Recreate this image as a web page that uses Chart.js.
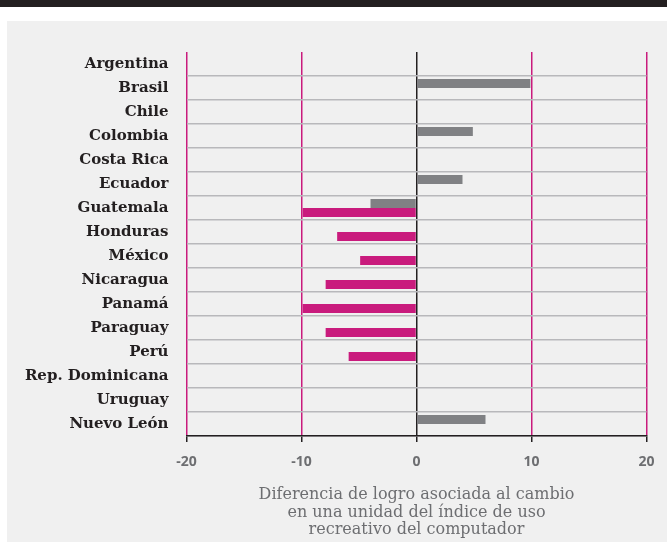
<!DOCTYPE html>
<html>
<head>
<meta charset="utf-8">
<script src="https://cdn.jsdelivr.net/npm/chart.js@4"></script>
<style>
  body { margin: 0; width: 667px; height: 542px; background: #fff; position: relative; overflow: hidden; }
  #topbar { position: absolute; left: 0; top: 0; width: 667px; height: 7px; background: #231f20; }
  #panel { position: absolute; left: 7px; top: 21px; width: 660px; height: 521px; background: #f0f0f0; }
  #chart { position: absolute; left: 0; top: 0; }
</style>
</head>
<body>
<div id="topbar"></div>
<div id="panel"></div>
<canvas id="chart" width="667" height="542"></canvas>
<script>
// countries, top to bottom
const countries = ['Argentina', 'Brasil', 'Chile', 'Colombia', 'Costa Rica', 'Ecuador', 'Guatemala',
  'Honduras', 'México', 'Nicaragua', 'Panamá', 'Paraguay', 'Perú', 'Rep. Dominicana', 'Uruguay', 'Nuevo León'];
const grayValues = [null, 9.9, null, 4.9, null, 4, -4, null, null, null, null, null, null, null, null, 6];
const pinkValues = [null, null, null, null, null, null, -9.9, -6.9, -4.9, -7.9, -9.9, -7.9, -5.9, null, null, null];
const xTicks = [-20, -10, 0, 10, 20];
const axisTitle = ['Diferencia de logro asociada al cambio', 'en una unidad del índice de uso', 'recreativo del computador'];

const PINK = '#c91b7d';
const GRAY = '#808184';
const DARK = '#231f20';

function isZero(c) {
  return xTicks[c.index] === 0;
}

const ctx = document.getElementById('chart').getContext('2d');
new Chart(ctx, {
  type: 'bar',
  data: {
    labels: countries,
    datasets: [
      { data: grayValues, backgroundColor: GRAY },
      { data: pinkValues, backgroundColor: PINK }
    ]
  },
  options: {
    indexAxis: 'y',
    responsive: false,
    animation: false,
    categoryPercentage: 0.75,
    barPercentage: 1,
    layout: { padding: { left: 0, top: 52, right: 20.5, bottom: 0 } },
    plugins: { legend: { display: false }, tooltip: { enabled: false } },
    scales: {
      x: {
        min: -20,
        max: 20,
        afterBuildTicks: function(scale) { scale.ticks = xTicks.map(v => ({ value: v })); },
        afterFit: function(scale) { scale.height = 106; },
        border: { display: true, color: DARK, width: 1.5 },
        grid: {
          color: c => isZero(c) ? DARK : PINK,
          lineWidth: 1.5,
          tickColor: DARK,
          tickLength: 6
        },
        ticks: {
          padding: 12,
          color: '#6d6e71',
          font: { family: 'Open Sans', weight: 'bold', size: 14 }
        },
        title: {
          display: true,
          text: axisTitle,
          color: '#6d6e71',
          font: { family: 'DejaVu Serif', size: 16, lineHeight: 1.1 },
          padding: { top: 0, bottom: 3 }
        }
      },
      y: {
        afterFit: function(scale) { scale.width = 186.5; },
        border: { display: false },
        grid: {
          offset: true,
          drawTicks: false,
          color: c => (c.index === 0 || c.index >= countries.length) ? 'rgba(0,0,0,0)' : '#b8b8bb',
          lineWidth: 1.5
        },
        ticks: {
          padding: 18,
          color: DARK,
          font: { family: 'DejaVu Serif', weight: 'bold', size: 15 }
        }
      }
    }
  }
});
</script>
</body>
</html>
